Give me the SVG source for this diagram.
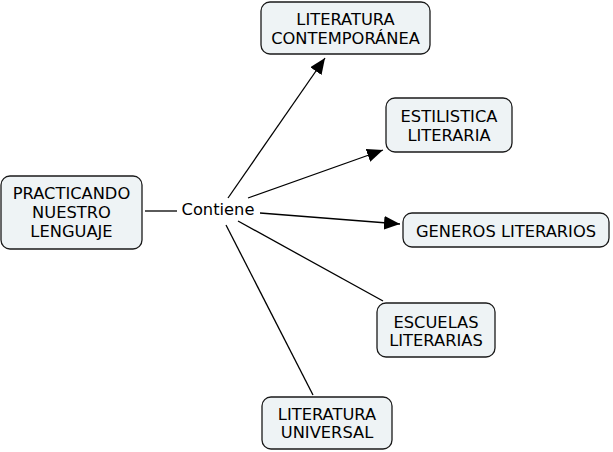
<svg xmlns="http://www.w3.org/2000/svg" width="613" height="452" viewBox="0 0 613 452">
<style>
.box{fill:#eef3f5;stroke:#1a1a1a;stroke-width:1.3}
.t{font-family:"DejaVu Sans",Verdana,sans-serif;font-size:16.3px;fill:#000;text-anchor:middle}
.c{stroke:#000;stroke-width:1.3;fill:none}
</style>
<defs>
<marker id="ahb" viewBox="0 0 14 12" refX="14" refY="6" markerWidth="16" markerHeight="14" markerUnits="userSpaceOnUse" orient="auto">
<path d="M0,0 L14,6 L0,12 z" fill="#000"/>
</marker>
</defs>
<rect width="613" height="452" fill="#fff"/>
<g id="connectors">
<line class="c" x1="145" y1="211" x2="177" y2="211"/>
<line class="c" x1="228" y1="198" x2="325" y2="58" marker-end="url(#ahb)"/>
<line class="c" x1="248" y1="198" x2="383" y2="150" marker-end="url(#ahb)"/>
<line class="c" x1="260" y1="213" x2="400" y2="224" marker-end="url(#ahb)"/>
<line class="c" x1="238" y1="221" x2="383" y2="301"/>
<line class="c" x1="226" y1="225" x2="313" y2="395"/>
<text class="t" x="218" y="215">Contiene</text>
</g>
<g id="n-practicando">
<rect class="box" x="1" y="176" width="141" height="73" rx="9"/>
<text class="t" x="71.5" y="199">PRACTICANDO</text>
<text class="t" x="71.5" y="218">NUESTRO</text>
<text class="t" x="71.5" y="237">LENGUAJE</text>
</g>
<g id="n-contemporanea">
<rect class="box" x="261" y="2" width="169" height="52" rx="9"/>
<text class="t" x="345.5" y="25">LITERATURA</text>
<text class="t" x="345.5" y="44">CONTEMPORÁNEA</text>
</g>
<g id="n-estilistica">
<rect class="box" x="386" y="98" width="126" height="54" rx="9"/>
<text class="t" x="449" y="122">ESTILISTICA</text>
<text class="t" x="449" y="141">LITERARIA</text>
</g>
<g id="n-generos">
<rect class="box" x="403" y="213" width="206" height="34" rx="9"/>
<text class="t" x="506" y="237">GENEROS LITERARIOS</text>
</g>
<g id="n-escuelas">
<rect class="box" x="377" y="303" width="118" height="54" rx="9"/>
<text class="t" x="436" y="328">ESCUELAS</text>
<text class="t" x="436" y="346">LITERARIAS</text>
</g>
<g id="n-universal">
<rect class="box" x="262" y="397" width="130" height="52" rx="9"/>
<text class="t" x="327" y="420">LITERATURA</text>
<text class="t" x="327" y="438">UNIVERSAL</text>
</g>
</svg>
